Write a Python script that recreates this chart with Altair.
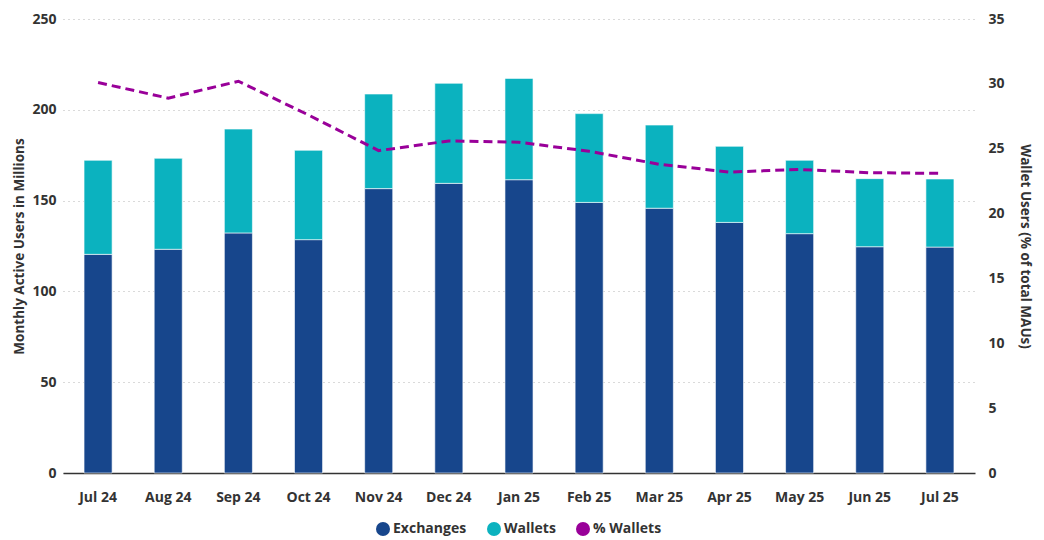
import altair as alt
import pandas as pd

months = ["Jul 24", "Aug 24", "Sep 24", "Oct 24", "Nov 24", "Dec 24", "Jan 25",
          "Feb 25", "Mar 25", "Apr 25", "May 25", "Jun 25", "Jul 25"]
exchanges = [120.4, 123.2, 132.2, 128.5, 156.6, 159.5, 161.5, 149.0, 145.8, 138.0, 131.8, 124.6, 124.4]
wallets = [51.8, 50.1, 57.2, 49.2, 52.1, 55.1, 55.8, 48.9, 45.8, 41.9, 40.4, 37.5, 37.5]
pct_wallets = [30.1, 28.9, 30.2, 27.6, 24.85, 25.6, 25.5, 24.8, 23.8, 23.2, 23.4, 23.15, 23.1]

series_names = ["Exchanges", "Wallets", "% Wallets"]
series_colors = ["#17468c", "#0bb2bf", "#990099"]

rows = []
for m, e, w in zip(months, exchanges, wallets):
    rows.append({"month": m, "series": "Exchanges", "value": e, "ord": 0})
    rows.append({"month": m, "series": "Wallets", "value": w, "ord": 1})
bars_df = pd.DataFrame(rows)
line_df = pd.DataFrame({"month": months, "pct": pct_wallets})

FONT = "Open Sans"
TXT = "#333333"

x_enc = alt.X("month:N", sort=months, title=None,
              scale=alt.Scale(paddingInner=0.6, paddingOuter=0.3),
              axis=alt.Axis(labelAngle=0, labelFont=FONT, labelFontWeight="bold",
                            labelFontSize=14, labelColor=TXT, labelPadding=17,
                            ticks=False, domain=True, domainColor="#333333",
                            domainWidth=1.5, grid=False))

bars = alt.Chart(bars_df).mark_bar(stroke="white", strokeWidth=1, strokeOpacity=0.6).encode(
    x=x_enc,
    y=alt.Y("value:Q", stack="zero",
            scale=alt.Scale(domain=[0, 250], nice=False),
            axis=alt.Axis(title="Monthly Active Users in Millions", values=[0, 50, 100, 150, 200, 250],
                          labelFont=FONT, labelFontWeight="bold", labelFontSize=14,
                          labelColor=TXT, labelPadding=7, ticks=False, domain=False,
                          grid=True, gridColor="#b5b5b5", gridDash=[1, 4], gridWidth=1,
                          titleFont=FONT, titleFontWeight="bold", titleFontSize=13.5,
                          titleColor=TXT, titlePadding=5)),
    color=alt.Color("series:N",
                    scale=alt.Scale(domain=series_names, range=series_colors),
                    legend=alt.Legend(title=None, orient="none", direction="horizontal",
                                      legendX=313, legendY=503,
                                      symbolType="circle", symbolSize=196,
                                      symbolStrokeWidth=0,
                                      labelFont=FONT, labelFontWeight="bold",
                                      labelFontSize=14, labelColor=TXT,
                                      labelOffset=3, columnPadding=20)),
    order=alt.Order("ord:Q", sort="ascending"),
)

line = alt.Chart(line_df).mark_line(strokeWidth=3, strokeDash=[9, 5]).encode(
    x=alt.X("month:N", sort=months),
    y=alt.Y("pct:Q", scale=alt.Scale(domain=[0, 35], nice=False),
            axis=alt.Axis(title="Wallet Users (% of total MAUs)", orient="right",
                          values=[0, 5, 10, 15, 20, 25, 30, 35],
                          labelFont=FONT, labelFontWeight="bold", labelFontSize=14,
                          labelColor=TXT, labelPadding=13, ticks=False, domain=False,
                          grid=False,
                          titleFont=FONT, titleFontWeight="bold", titleFontSize=13.5,
                          titleColor=TXT, titlePadding=13)),
    color=alt.value("#990099"),
)

chart = alt.layer(bars, line).resolve_scale(y="independent").properties(
    width=912, height=454,
    background="white",
    autosize=alt.AutoSizeParams(type="none"),
    padding={"left": 55, "top": 11, "right": 60, "bottom": 66},
).configure_view(stroke=None)

chart.save("out.html", embed_options={"renderer": "svg", "actions": False})
